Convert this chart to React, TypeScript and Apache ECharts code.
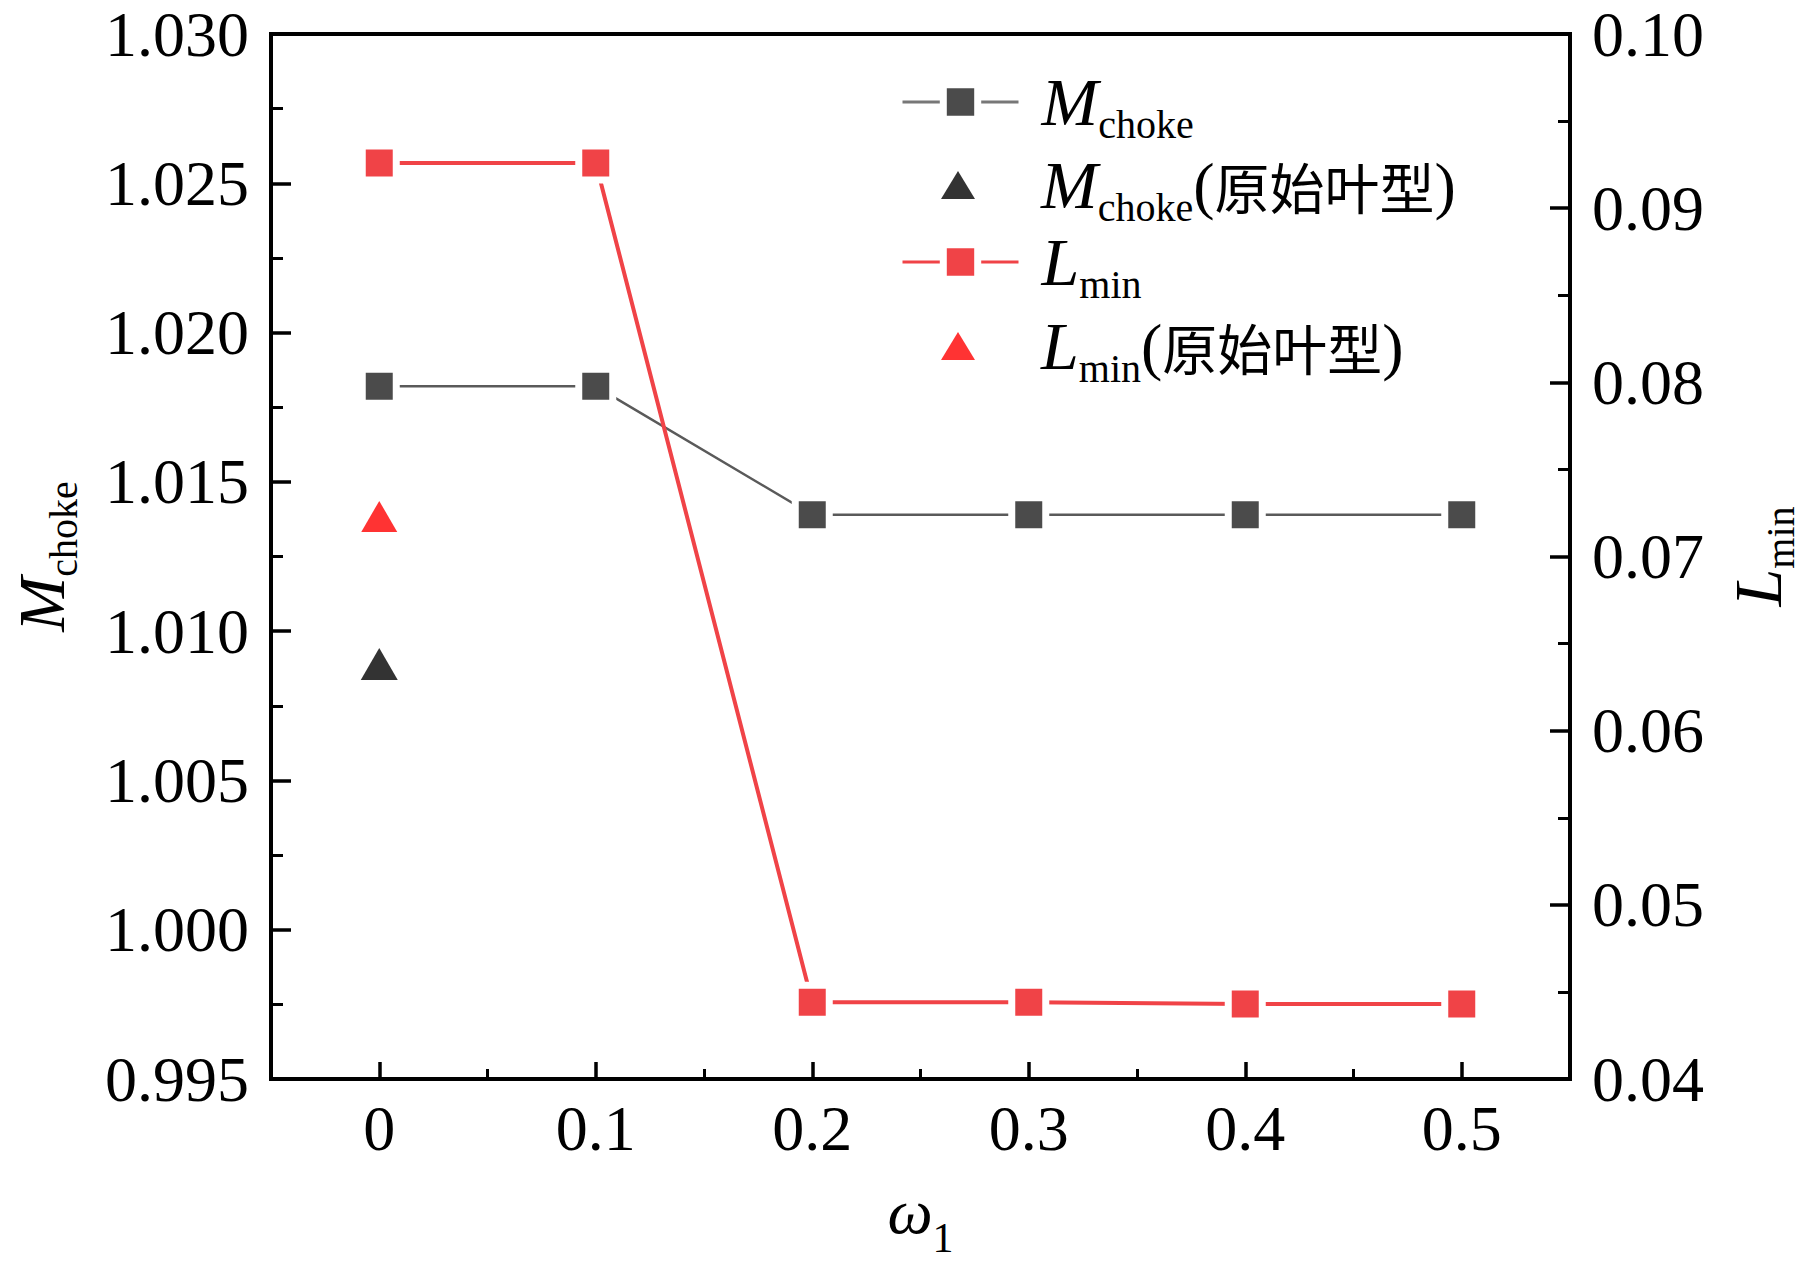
import React, { useEffect, useRef } from 'react';
import * as echarts from 'echarts';

const omegaLabels = ['0', '0.1', '0.2', '0.3', '0.4', '0.5'];
const mChoke = [1.0182, 1.0182, 1.0139, 1.0139, 1.0139, 1.0139];
const lMin = [0.0926, 0.0926, 0.0444, 0.0444, 0.0443, 0.0443];
const mChokeOriginal = [['0', 1.0089]];
const lMinOriginal = [['0', 0.0723]];
const leftTicks = { min: 0.995, max: 1.03, interval: 0.005 };
const rightTicks = { min: 0.04, max: 0.1, interval: 0.01 };

const SERIF = "'Liberation Serif', 'Times New Roman', serif";
const CJK = "'Noto Sans CJK SC', sans-serif";

const richBase = {
  it: { fontFamily: SERIF, fontStyle: 'italic', fontSize: 68, lineHeight: 68, color: '#000' },
  sub: { fontFamily: SERIF, fontSize: 40, lineHeight: 40, padding: [44, 0, 0, 0], color: '#000' },
  par: { fontFamily: SERIF, fontSize: 64, lineHeight: 68, color: '#000' },
  cn: { fontFamily: CJK, fontSize: 55, lineHeight: 68, color: '#000' },
};

// compact variant: box extends less above the main letter
const richCompact = {
  ...richBase,
  it: { ...richBase.it, fontSize: 66, lineHeight: 66, padding: [0, 0, 8, 0] },
  sub: { ...richBase.sub, padding: [36, 0, 0, 0] },
};

const GRAY = '#4b4b4b';
const GRAY_LINE = '#5a5a5a';
const RED = '#f04347';
const TRI = 'path://M0 28 L17 0 L34 28 Z';

export default function App() {
  const ref = useRef<HTMLDivElement>(null);
  useEffect(() => {
    if (!ref.current) return;
    const chart = echarts.init(ref.current, null, { renderer: 'svg' });
    const lineLegend = (name: string, top: number, text: string, lineColor: string) => ({
      data: [name],
      left: 901,
      top,
      orient: 'vertical',
      padding: 0,
      itemWidth: 116,
      itemHeight: 43,
      itemStyle: { borderColor: '#fff', borderWidth: 7 },
      lineStyle: { width: 3, color: lineColor },
      selectedMode: false,
      formatter: () => text,
      textStyle: { padding: [0, 0, 0, 18], rich: richBase },
    });
    const triLegend = (name: string, top: number, text: string) => ({
      data: [{ name, icon: TRI }],
      left: 941,
      top,
      orient: 'vertical',
      padding: 0,
      itemWidth: 34,
      itemHeight: 28,
      itemStyle: { borderWidth: 0 },
      selectedMode: false,
      formatter: () => text,
      textStyle: { padding: [0, 0, 0, 61], rich: richBase },
    });
    const axisCommon = {
      axisLine: { show: true, lineStyle: { color: '#000', width: 4 } },
      axisTick: { show: true, inside: true, length: 20, lineStyle: { color: '#000', width: 3.5 } },
      minorTick: { show: true, splitNumber: 2, length: 12, lineStyle: { color: '#000', width: 3 } },
      splitLine: { show: false },
      axisLabel: { fontFamily: SERIF, fontSize: 64, color: '#000', margin: 22 },
    };
    chart.setOption({
      animation: false,
      backgroundColor: '#fff',
      grid: {
        left: 271, right: 249, top: 34, bottom: 188,
        outerBoundsMode: 'none',
        containLabel: false,
        show: true, borderColor: '#000', borderWidth: 4, backgroundColor: 'transparent',
      },
      legend: [
        lineLegend('Mchoke', 60, '{it|M}{sub|choke}', '#777777'),
        triLegend('Mchoke原始叶型', 143, '{it|M}{sub|choke}{par|(}{cn|原始叶型}{par|)}'),
        lineLegend('Lmin', 220, '{it|L}{sub|min}', RED),
        triLegend('Lmin原始叶型', 304, '{it|L}{sub|min}{par|(}{cn|原始叶型}{par|)}'),
      ],
      xAxis: [
        {
          type: 'category',
          data: omegaLabels,
          boundaryGap: true,
          position: 'bottom',
          name: '{it|ω}{sub|1}',
          nameLocation: 'middle',
          nameGap: 86,
          nameTextStyle: {
            rich: {
              ...richBase,
              it: { ...richBase.it, fontSize: 64, lineHeight: 64 },
              sub: { ...richBase.sub, fontSize: 42, lineHeight: 42, padding: [52, 0, 0, 0] },
            },
          },
          axisLine: { show: true, lineStyle: { color: '#000', width: 4 } },
          axisTick: { show: true, inside: true, alignWithLabel: true, interval: 0, length: 17, lineStyle: { color: '#000', width: 3.5 } },
          axisLabel: { fontFamily: SERIF, fontSize: 64, color: '#000', margin: 17, interval: 0 },
          splitLine: { show: false },
        },
        {
          type: 'category',
          data: omegaLabels,
          boundaryGap: true,
          position: 'bottom',
          axisLine: { show: false },
          axisTick: { show: true, inside: true, alignWithLabel: false, interval: 0, length: 10, lineStyle: { color: '#000', width: 3 } },
          axisLabel: { show: false },
          splitLine: { show: false },
        },
      ],
      yAxis: [
        {
          type: 'value',
          position: 'left',
          min: leftTicks.min,
          max: leftTicks.max,
          interval: leftTicks.interval,
          name: '{it|M}{sub|choke}',
          nameLocation: 'middle',
          nameRotate: 90,
          nameGap: 193,
          nameTextStyle: { rich: richCompact },
          ...axisCommon,
          axisLabel: { ...axisCommon.axisLabel, formatter: (v: number) => v.toFixed(3) },
        },
        {
          type: 'value',
          position: 'right',
          min: rightTicks.min,
          max: rightTicks.max,
          interval: rightTicks.interval,
          name: '{it|L}{sub|min}',
          nameLocation: 'middle',
          nameRotate: 90,
          nameGap: 146,
          nameTextStyle: { rich: { ...richBase, sub: { ...richBase.sub, padding: [46, 0, 0, 0] } } },
          ...axisCommon,
          axisLabel: { ...axisCommon.axisLabel, formatter: (v: number) => v.toFixed(2) },
        },
      ],
      series: [
        {
          name: 'Mchoke',
          type: 'line',
          xAxisIndex: 0,
          yAxisIndex: 0,
          data: mChoke,
          symbol: 'rect',
          symbolSize: 34,
          lineStyle: { color: GRAY_LINE, width: 2.5 },
          itemStyle: { color: GRAY, borderColor: '#fff', borderWidth: 7 },
          z: 3,
        },
        {
          name: 'Mchoke原始叶型',
          type: 'scatter',
          xAxisIndex: 0,
          yAxisIndex: 0,
          data: mChokeOriginal,
          symbol: 'triangle',
          symbolSize: [37, 32],
          itemStyle: { color: '#000000' },
          z: 4,
        },
        {
          name: 'Lmin',
          type: 'line',
          xAxisIndex: 0,
          yAxisIndex: 1,
          data: lMin,
          symbol: 'rect',
          symbolSize: 34,
          lineStyle: { color: RED, width: 4 },
          itemStyle: { color: RED, borderColor: '#fff', borderWidth: 7 },
          z: 5,
        },
        {
          name: 'Lmin原始叶型',
          type: 'scatter',
          xAxisIndex: 0,
          yAxisIndex: 1,
          data: lMinOriginal,
          symbol: 'triangle',
          symbolSize: [36, 31],
          itemStyle: { color: '#ff0000' },
          z: 4,
        },
      ],
    });
    return () => chart.dispose();
  }, []);
  return (
    <div
      ref={ref}
      style={{ position: 'absolute', left: 0, top: 0, width: 1819, height: 1267, background: '#fff' }}
    />
  );
}
